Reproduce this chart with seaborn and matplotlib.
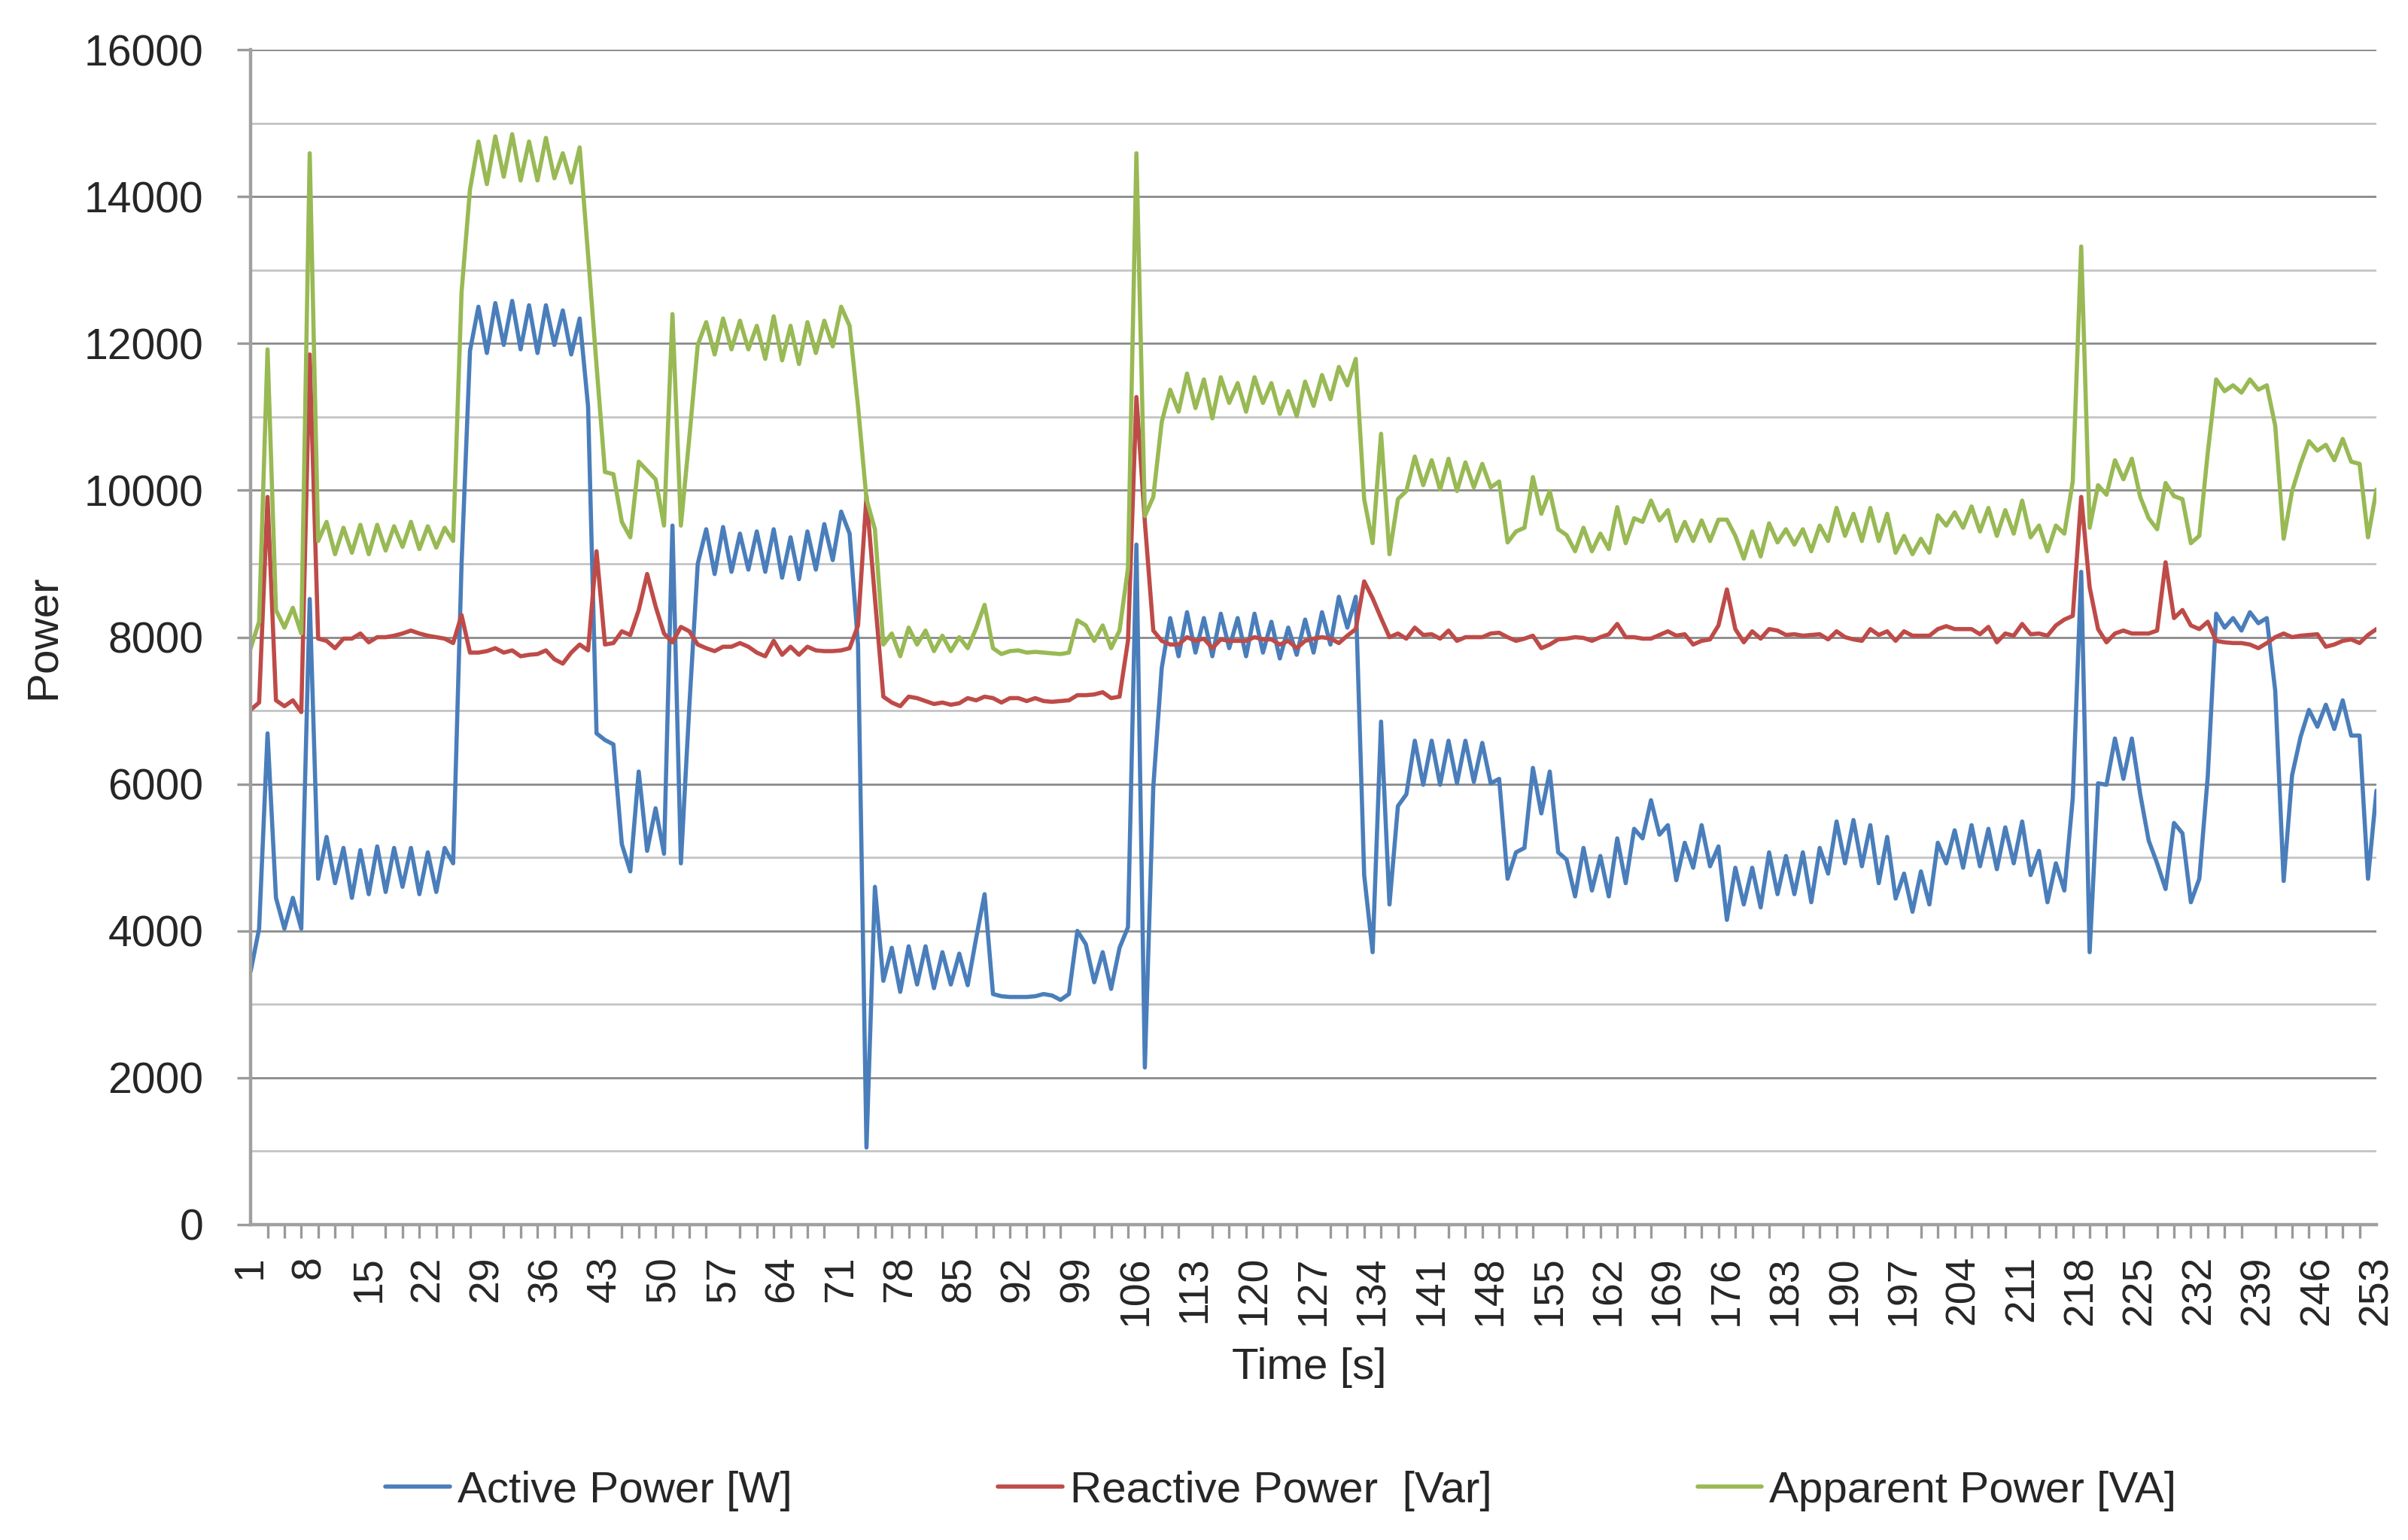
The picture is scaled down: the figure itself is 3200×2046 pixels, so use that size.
import matplotlib
matplotlib.use('Agg')
import matplotlib.pyplot as plt
import pandas as pd
import seaborn as sns
from matplotlib.ticker import FixedLocator, MultipleLocator

# time axis, one sample per second
seconds = list(range(1, 254))

active_power = [
    3450, 4030, 6690, 4450, 4030, 4450, 4030, 8520, 4710, 5280,
    4650, 5130, 4450, 5100, 4500, 5150, 4530, 5130, 4600, 5130,
    4500, 5070, 4530, 5130, 4920, 9000, 11900, 12500, 11870, 12550,
    11980, 12580, 11920, 12520, 11870, 12520, 11980, 12450, 11850, 12340,
    11140, 6690, 6600, 6540, 5180, 4810, 6170, 5090, 5670, 5050,
    9520, 4920, 7060, 9000, 9470, 8860, 9500, 8890, 9410, 8920,
    9440, 8890, 9470, 8810, 9360, 8790, 9440, 8920, 9540, 9050,
    9710, 9410, 7900, 1050, 4600, 3320, 3770, 3170, 3790, 3270,
    3790, 3220, 3710, 3270, 3690, 3260, 3900, 4500, 3140, 3110,
    3100, 3100, 3100, 3110, 3140, 3120, 3060, 3140, 4000, 3820,
    3300, 3710, 3210, 3770, 4050, 9260, 2140, 5960, 7580, 8260,
    7740, 8340, 7790, 8260, 7740, 8320, 7850, 8260, 7740, 8320,
    7790, 8210, 7710, 8130, 7760, 8240, 7790, 8340, 7900, 8550,
    8130, 8550, 4760, 3710, 6850, 4360, 5700, 5860, 6590, 5990,
    6590, 5990, 6590, 6010, 6590, 6030, 6560, 6010, 6070, 4710,
    5070, 5130, 6220, 5600, 6170, 5070, 4970, 4470, 5130, 4550,
    5020, 4470, 5260, 4650, 5390, 5260, 5780, 5310, 5440, 4690,
    5200, 4860, 5440, 4880, 5150, 4150, 4860, 4360, 4860, 4320,
    5070, 4500, 5020, 4500, 5070, 4390, 5130, 4780, 5490, 4920,
    5510, 4880, 5440, 4650, 5280, 4440, 4780, 4260, 4810, 4360,
    5200, 4920, 5370, 4860, 5440, 4880, 5390, 4840, 5410, 4920,
    5490, 4760, 5090, 4390, 4920, 4550, 5810, 8890, 3710, 6010,
    5990, 6620, 6070, 6620, 5860, 5230, 4920, 4570, 5470, 5330,
    4390, 4710, 6100, 8320, 8130, 8260, 8090, 8340, 8190, 8260,
    7270, 4680, 6120, 6640, 7010, 6780, 7080, 6750, 7140, 6660,
    6660, 4710, 5910,
]

reactive_power = [
    7010, 7110, 9910, 7140, 7060, 7140, 6980, 11850, 7980, 7950,
    7850, 7980, 7980, 8050, 7930, 8000, 8000, 8020, 8050, 8090,
    8050, 8020, 8000, 7980, 7920, 8300, 7790, 7790, 7810, 7850,
    7790, 7820, 7740, 7760, 7770, 7820, 7700, 7640, 7790, 7900,
    7820, 9170, 7900, 7920, 8080, 8030, 8370, 8860, 8420, 8050,
    7930, 8140, 8080, 7900, 7850, 7810, 7870, 7870, 7920, 7870,
    7790, 7740, 7950, 7760, 7870, 7760, 7870, 7820, 7810, 7810,
    7820, 7850, 8160, 9920, 8530, 7190, 7110, 7060, 7190, 7170,
    7130, 7090, 7110, 7080, 7100, 7170, 7140, 7190, 7170, 7110,
    7170, 7170, 7130, 7170, 7130, 7120, 7130, 7140, 7210, 7210,
    7220, 7250, 7170, 7190, 7950, 11270, 9570, 8090, 7950, 7900,
    7900, 8000, 7950, 7980, 7850, 7970, 7950, 7950, 7950, 8000,
    7970, 7970, 7900, 7950, 7850, 7950, 7980, 8000, 7980, 7920,
    8020, 8110, 8760, 8530, 8260, 8000, 8050, 7980, 8130, 8030,
    8040, 7980, 8090, 7950, 8000, 8000, 8000, 8050, 8060, 8000,
    7950, 7980, 8020, 7850, 7900, 7970, 7980, 8000, 7990, 7950,
    8000, 8040, 8180, 8000, 8000, 7980, 7980, 8030, 8080, 8020,
    8040, 7900, 7950, 7970, 8160, 8650, 8110, 7930, 8080, 7980,
    8110, 8090, 8030, 8040, 8020, 8030, 8040, 7970, 8080, 8000,
    7970, 7950, 8110, 8030, 8080, 7950, 8080, 8020, 8020, 8020,
    8110, 8150, 8110, 8110, 8110, 8040, 8140, 7930, 8050, 8020,
    8180, 8040, 8050, 8020, 8160, 8240, 8290, 9910, 8680, 8110,
    7930, 8050, 8090, 8050, 8050, 8050, 8090, 9020, 8260, 8370,
    8160, 8110, 8210, 7950, 7930, 7920, 7920, 7900, 7850, 7920,
    8000, 8050, 8000, 8020, 8030, 8040, 7870, 7900, 7950, 7970,
    7920, 8030, 8110,
]

apparent_power = [
    7850, 8210, 11920, 8370, 8130, 8400, 8050, 14590, 9310, 9570,
    9130, 9490, 9150, 9530, 9130, 9530, 9180, 9510, 9230, 9570,
    9200, 9510, 9220, 9490, 9310, 12700, 14100, 14750, 14170, 14820,
    14270, 14850, 14220, 14750, 14220, 14800, 14250, 14590, 14190, 14670,
    13200, 11700, 10250, 10220, 9570, 9360, 10390, 10270, 10150, 9520,
    12400, 9520, 10720, 11980, 12290, 11850, 12340, 11920, 12310, 11920,
    12240, 11790, 12370, 11770, 12240, 11720, 12290, 11870, 12310, 11960,
    12500, 12240, 11140, 9880, 9470, 7900, 8050, 7740, 8130, 7900,
    8090, 7810, 8020, 7810, 8000, 7850, 8120, 8440, 7850, 7770,
    7810, 7820, 7790, 7800, 7790, 7780, 7770, 7790, 8230, 8160,
    7950, 8160, 7850, 8090, 8940, 14590, 9650, 9910, 10930, 11370,
    11070, 11590, 11120, 11510, 10980, 11540, 11190, 11460, 11070, 11540,
    11190, 11460, 11040, 11350, 11010, 11480, 11150, 11570, 11240, 11680,
    11430, 11790, 9880, 9280, 10770, 9130, 9880, 9990, 10460, 10070,
    10410, 10010, 10430, 9990, 10380, 10040, 10360, 10040, 10120, 9290,
    9440, 9490, 10180, 9680, 9990, 9470, 9390, 9170, 9490, 9170,
    9410, 9200, 9770, 9280, 9620, 9570, 9860, 9590, 9730, 9310,
    9570, 9310, 9590, 9310, 9600, 9600, 9380, 9070, 9440, 9100,
    9550, 9290, 9470, 9260, 9470, 9170, 9520, 9310, 9760, 9380,
    9680, 9310, 9760, 9310, 9680, 9150, 9380, 9130, 9340, 9150,
    9660, 9520, 9700, 9490, 9780, 9440, 9760, 9380, 9730, 9410,
    9860, 9360, 9520, 9170, 9520, 9410, 10120, 13320, 9490, 10070,
    9940, 10410, 10150, 10430, 9910, 9620, 9470, 10100, 9920, 9880,
    9280, 9380, 10510, 11510, 11350, 11430, 11330, 11510, 11370, 11430,
    10880, 9340, 9990, 10360, 10670, 10540, 10620, 10410, 10700, 10390,
    10360, 9360, 10010,
]

series_names = ['Active Power [W]', 'Reactive Power  [Var]', 'Apparent Power [VA]']
series_colors = ['#4A7EBB', '#BE4B48', '#98B954']
x_tick_labels = list(range(1, 254, 7))
x_tick_marks = list(range(1, 254, 2))
y_ticks = list(range(0, 16001, 2000))

# long format for seaborn
df = pd.DataFrame({
    'Time': seconds * 3,
    'Power': active_power + reactive_power + apparent_power,
    'Series': [series_names[0]] * len(seconds) + [series_names[1]] * len(seconds)
              + [series_names[2]] * len(seconds),
})

sns.set_style('white')
plt.rcParams['font.family'] = ['Liberation Sans', 'DejaVu Sans']

fig = plt.figure(figsize=(16, 10.23), dpi=200)
ax = fig.add_axes([0.1041, 0.2048, 0.8828, 0.7629])

sns.lineplot(data=df, x='Time', y='Power', hue='Series', hue_order=series_names,
             palette=dict(zip(series_names, series_colors)), linewidth=2.0,
             estimator=None, ax=ax)

ax.set_xlim(1, 253)
ax.set_ylim(0, 16000)

# y axis: labelled every 2000, light lines every 1000
ax.yaxis.set_major_locator(FixedLocator(y_ticks))
ax.yaxis.set_minor_locator(MultipleLocator(1000))
ax.grid(which='major', axis='y', color='#8a8a8a', linewidth=1.0)
ax.grid(which='minor', axis='y', color='#c4c4c4', linewidth=1.0)
ax.grid(which='both', axis='x', visible=False)
ax.set_axisbelow(True)

# x axis: tick marks every 2 s, labels every 7 s (labels carry no mark)
ax.xaxis.set_major_locator(FixedLocator(x_tick_labels))
ax.xaxis.set_minor_locator(FixedLocator(x_tick_marks))
ax.set_xticklabels([str(v) for v in x_tick_labels], rotation=90, fontsize=20)
ax.tick_params(axis='x', which='major', length=0, pad=14.8, bottom=True)
ax.tick_params(axis='x', which='minor', direction='out', length=6.5, width=1.2,
               color='#9a9a9a', bottom=True)
ax.tick_params(axis='y', which='major', direction='out', length=6.5, width=1.2,
               color='#9a9a9a', pad=16, labelsize=20.5, left=True)
ax.tick_params(axis='y', which='minor', length=0)

for side in ['top', 'right']:
    ax.spines[side].set_visible(False)
for side in ['left', 'bottom']:
    ax.spines[side].set_color('#a0a0a0')
    ax.spines[side].set_linewidth(1.6)

ax.set_xlabel('Time [s]', fontsize=21)
ax.set_ylabel('Power', fontsize=21)
ax.xaxis.label.set_va('center')
ax.yaxis.label.set_va('center')
ax.xaxis.set_label_coords(0.498, -0.122)
ax.yaxis.set_label_coords(-0.0975, 0.5)

sns.move_legend(ax, 'center', bbox_to_anchor=(0.532, 0.032), bbox_transform=fig.transFigure,
                ncol=3, frameon=False, title=None, fontsize=21, handlelength=1.46,
                handletextpad=0.17, columnspacing=4.7)

fig.savefig('out.png', dpi=200)
